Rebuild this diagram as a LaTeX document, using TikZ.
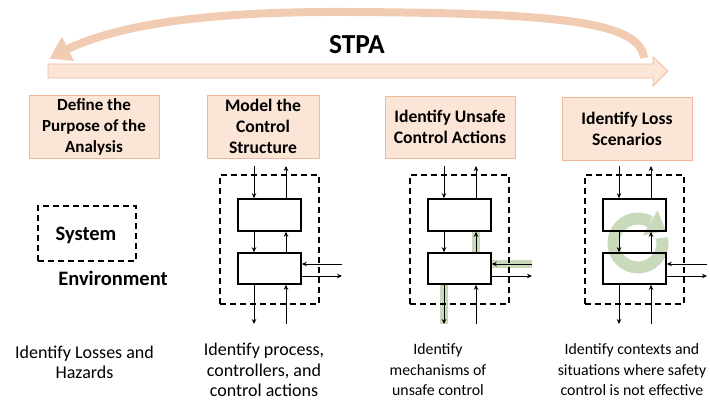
\documentclass[tikz,border=0pt]{standalone}
\usepackage{fontspec}
\setmainfont{Carlito}
\usetikzlibrary{arrows.meta,bending}
\definecolor{peach}{HTML}{FBE5D6}
\definecolor{peachline}{HTML}{F0B898}
\definecolor{curvecol}{HTML}{F2CBB3}
\definecolor{sage}{HTML}{C9DABC}
\begin{document}
\begin{tikzpicture}[x=1pt,y=-1pt,
  stepbox/.style={draw=peachline, fill=peach, line width=0.8pt, align=center,
    font=\fontsize{17.6}{21}\selectfont\bfseries, inner sep=0pt},
  cbox/.style={draw=black, line width=1.6pt, minimum width=63pt, minimum height=32pt, inner sep=0pt},
  frame/.style={draw=black, line width=2pt, dash pattern=on 6pt off 4pt, inner sep=0pt},
  arr/.style={line width=0.9pt, -{Stealth[length=5pt,width=4.5pt]}},
  hl/.style={draw=sage, line width=8pt},
  desc/.style={align=center, font=\fontsize{18}{20.5}\selectfont},
  lbl/.style={font=\fontsize{20.5}{24}\selectfont\bfseries}
]
\useasboundingbox (0,0) rectangle (710,400);

% straight arrow
\draw[draw=peachline, fill=peach, line width=0.8pt]
  (48,64) -- (653,64) -- (653,57) -- (668,71) -- (653,86) -- (653,78) -- (48,78) -- cycle;
% curved return arrow
\draw[curvecol, line width=8pt, -{Triangle[width=26pt,length=20pt,bend]}]
  (644,58) .. controls (640,22) and (560,13) .. (350,12)
  .. controls (200,11) and (100,26) .. (50,59);
\node[font=\fontsize{27.5}{32}\selectfont\bfseries] (stpa) at (357,45) {STPA};

% step boxes
\node[stepbox, minimum width=130pt, minimum height=63pt, font=\fontsize{17}{21}\selectfont\bfseries] (s1) at (94,126.5) {Define the\\Purpose of the\\Analysis};
\node[stepbox, minimum width=112pt, minimum height=63pt] (s2) at (263,126.5) {Model the\\Control\\Structure};
\node[stepbox, minimum width=130pt, minimum height=62pt] (s3) at (450,127) {Identify Unsafe\\Control Actions};
\node[stepbox, minimum width=130pt, minimum height=63pt] (s4) at (627,128.5) {Identify Loss\\Scenarios};

% legend
\node[frame, minimum width=98pt, minimum height=55pt] (sys) at (87,233.5) {};
\node[lbl] (systxt) at (86,235) {System};
\node[lbl] (env) at (113,278) {Environment};

% green highlights (diagram c) and loop (diagram d)
\draw[hl] (476,231) -- (476,253);
\draw[hl] (491,264) -- (532,264);
\draw[hl] (444,284) -- (444,324);
\draw[sage, line width=12pt]
  (638,243) ++(-12:24.5) arc[start angle=-12, end angle=300, radius=24.5];
\fill[sage] (657.5,210.4) -- (643,235.2) -- (666,231) -- cycle;

% control structure diagrams
\foreach \dx/\n in {0/b, 190/c, 365/d}{
  \node[frame, minimum width=99pt, minimum height=129pt] (f\n) at (269.5+\dx,239.5) {};
  \node[cbox] (u\n) at (269.5+\dx,215) {};
  \node[cbox, minimum height=31pt] (l\n) at (269.5+\dx,268.5) {};
  \coordinate (ta\n) at (254+\dx,166);
  \coordinate (tb\n) at (286+\dx,166);
  \coordinate (ba\n) at (254+\dx,324);
  \coordinate (bb\n) at (286+\dx,324);
  \coordinate (ri\n) at (342+\dx,264);
  \coordinate (ro\n) at (342+\dx,276);
  \draw[arr] (ta\n) -- (ta\n |- u\n.north);
  \draw[arr] (tb\n |- u\n.north) -- (tb\n);
  \draw[arr] (ta\n |- u\n.south) -- (ta\n |- l\n.north);
  \draw[arr] (tb\n |- l\n.north) -- (tb\n |- u\n.south);
  \draw[arr] (ta\n |- l\n.south) -- (ba\n);
  \draw[arr] (bb\n) -- (bb\n |- l\n.south);
  \draw[arr] (ri\n) -- (ri\n -| l\n.east);
  \draw[arr] (ro\n -| l\n.east) -- (ro\n);
}

% descriptions
\node[desc] (d1) at (84.5,362.5) {Identify Losses and\\Hazards};
\node[desc] (d2) at (264,370) {Identify process,\\controllers, and\\control actions};
\node[desc, font=\fontsize{15.8}{20.5}\selectfont] (d3) at (438,370) {Identify\\mechanisms of\\unsafe control};
\node[desc, font=\fontsize{15.8}{20.5}\selectfont] (d4) at (632,370) {Identify contexts and\\situations where safety\\control is not effective};
\end{tikzpicture}
\end{document}
